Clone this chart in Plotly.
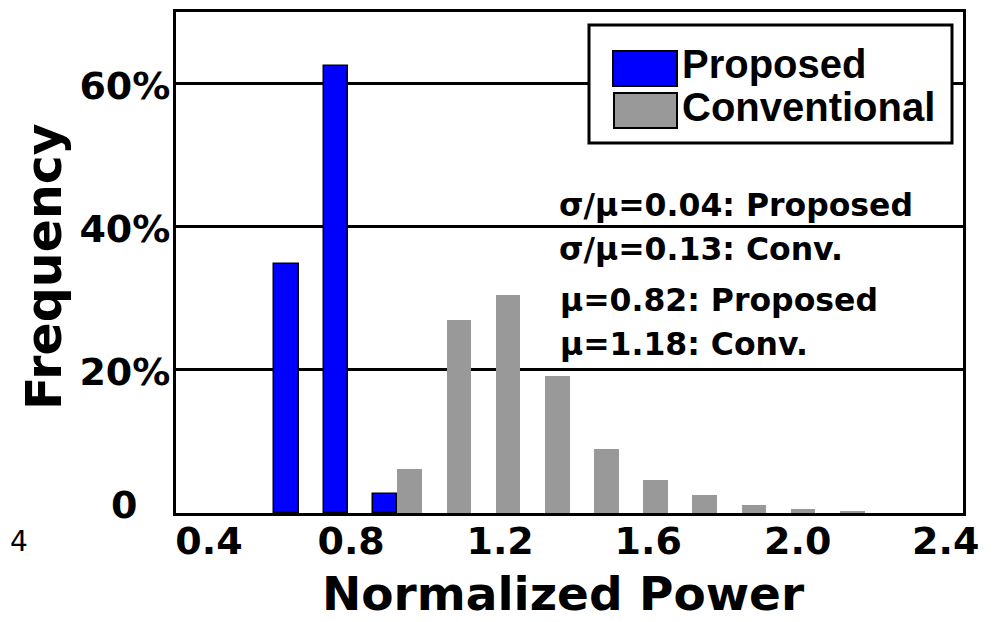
import plotly.graph_objects as go

# ---- data ----
bin_centers = [0.75, 0.85, 0.95, 1.05, 1.15, 1.25, 1.35, 1.45, 1.55, 1.65, 1.75, 1.85]
proposed = [34.8, 62.5, 2.7, None, None, None, None, None, None, None, None, None]
conventional = [None, None, 6.1, 26.9, 30.5, 19.1, 8.9, 4.6, 2.5, 1.1, 0.5, 0.2]
x_tick_text = ["0.4", "0.8", "1.2", "1.6", "2.0", "2.4"]
y_tick_vals = [20, 40, 60]
y_tick_text = ["20%", "40%", "60%"]
stat_lines = ["σ/μ=0.04: Proposed", "σ/μ=0.13: Conv.", "μ=0.82: Proposed", "μ=1.18: Conv."]
series_names = ["Proposed", "Conventional"]
x_title = "Normalized Power"
y_title = "Frequency"

# ---- layout constants ----
W, H = 999, 622
OFF = 8                      # page body margin of the html page
L0, T0, R0, B0 = 176, 12, 963, 513   # plot box in screen pixels
L, T = L0 - OFF, T0 - OFF
R, B = W - (R0 - OFF), H - (B0 - OFF)
PW, PH = R0 - L0, B0 - T0
x_tick_pos = [0.567, 0.856, 1.159, 1.46, 1.764, 2.065]

def px(x):
    return (x - L0) / PW

def py(y):
    return (B0 - y) / PH

BLUE = "#0000FF"
GRAY = "#999999"
TICKFONT = dict(family="DejaVu Sans", size=38, color="black", weight="bold")
TITLEFONT = dict(family="DejaVu Sans", size=47, color="black", weight="bold")
YTITLEFONT = dict(family="DejaVu Sans", size=49, color="black", weight="bold")
TEXTFONT = dict(family="DejaVu Sans", size=31.5, color="black", weight="bold")
LEGFONT = dict(family="Liberation Sans", size=40, color="black", weight="bold")

fig = go.Figure()
fig.add_trace(go.Bar(x=bin_centers, y=proposed, name=series_names[0],
                     marker=dict(color=BLUE, line=dict(color="black", width=1.5))))
fig.add_trace(go.Bar(x=bin_centers, y=conventional, name=series_names[1],
                     marker=dict(color=GRAY, line=dict(color=GRAY, width=0))))

fig.update_layout(
    width=W, height=H, margin=dict(l=L, r=R, t=T, b=B, autoexpand=False),
    plot_bgcolor="white", paper_bgcolor="white",
    barmode="group", bargap=0, bargroupgap=0, showlegend=False,
    xaxis=dict(range=[0.5, 2.1], tickvals=x_tick_pos, ticktext=x_tick_text,
               tickfont=TICKFONT, showgrid=False, zeroline=False, automargin=False,
               showline=True, linecolor="black", linewidth=3, mirror=True,
               ticks="", ticklabelstandoff=-8),
    yaxis=dict(range=[0, 70], tickvals=y_tick_vals, ticktext=y_tick_text,
               tickfont=TICKFONT, showgrid=True, gridcolor="black", gridwidth=3,
               zeroline=False, showline=True, linecolor="black", linewidth=3,
               mirror=True, ticks="", ticklabelstandoff=-5, ticklabelshift=2,
               automargin=False),
)

ann = []
# axis titles
ann.append(dict(text=x_title, xref="paper", yref="paper", x=px(563), y=py(622),
                xanchor="center", yanchor="bottom", showarrow=False, borderpad=0,
                font=TITLEFONT))
ann.append(dict(text=y_title, xref="paper", yref="paper", x=px(44), y=py(267),
                xanchor="center", yanchor="middle", textangle=-90, showarrow=False,
                font=YTITLEFONT))
# "0" y label
ann.append(dict(text="0", xref="paper", yref="y", x=px(123.5), y=0, xanchor="center",
                yanchor="middle", yshift=8, showarrow=False, font=TICKFONT))
# label fragment at left edge
ann.append(dict(text="4", xref="paper", yref="paper", x=px(OFF + 1), y=py(541), xanchor="left",
                yanchor="middle", showarrow=False, borderpad=0,
                font=dict(family="DejaVu Sans", size=28, color="black")))
# statistic texts
stat_y = [205, 249, 300, 344]
stat_x = [557, 557, 558, 558]
for t, yy, xx in zip(stat_lines, stat_y, stat_x):
    ann.append(dict(text=t, xref="paper", yref="paper", x=px(xx), y=py(yy), xanchor="left",
                    yanchor="middle", showarrow=False, font=TEXTFONT))
# manual legend
shapes = [dict(type="rect", xref="paper", yref="paper", x0=px(589), x1=px(952), y0=py(143), y1=py(25),
               fillcolor="white", line=dict(color="black", width=3), layer="above"),
          dict(type="rect", xref="paper", yref="paper", x0=px(613), x1=px(677), y0=py(86), y1=py(51),
               fillcolor=BLUE, line=dict(color="black", width=2), layer="above"),
          dict(type="rect", xref="paper", yref="paper", x0=px(614), x1=px(677), y0=py(128), y1=py(93),
               fillcolor=GRAY, line=dict(color="black", width=2), layer="above")]
for name, yy in zip(series_names, [64, 107]):
    ann.append(dict(text=name, xref="paper", yref="paper", x=px(680), y=py(yy), xanchor="left",
                    yanchor="middle", showarrow=False, font=LEGFONT))
fig.update_layout(annotations=ann, shapes=shapes)

fig.write_html("out.html")
